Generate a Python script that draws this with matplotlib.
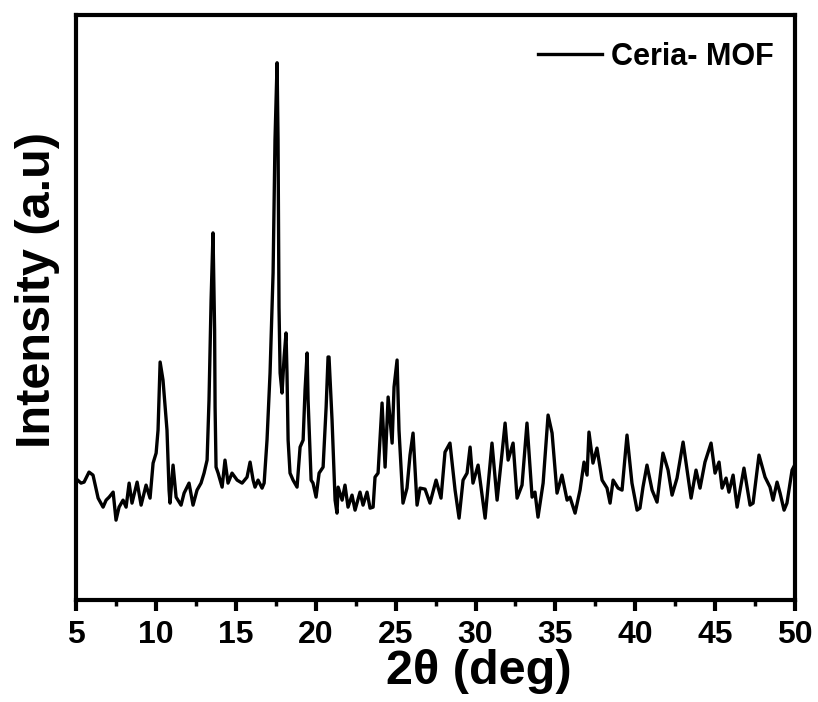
import numpy as np
import matplotlib
matplotlib.use("Agg")
import matplotlib.pyplot as plt
from matplotlib.ticker import MultipleLocator

# XRD pattern of Ceria-MOF (2theta in deg, intensity a.u.)
two_theta = [5.10, 5.31, 5.50, 5.81, 6.06, 6.38, 6.69, 6.88, 7.07, 7.32,
             7.50, 7.69, 7.94, 8.13, 8.32, 8.50, 8.82, 9.07, 9.38, 9.63,
             9.82, 10.01, 10.13, 10.26, 10.44, 10.69, 10.82, 10.88, 11.07, 11.26,
             11.57, 11.76, 12.07, 12.32, 12.57, 12.82, 13.01, 13.20, 13.32, 13.45,
             13.57, 13.64, 13.67, 13.70, 13.76, 13.89, 14.14, 14.32, 14.51, 14.76,
             15.08, 15.39, 15.70, 15.89, 16.08, 16.20, 16.39, 16.64, 16.77, 16.95,
             17.14, 17.33, 17.45, 17.58, 17.64, 17.70, 17.77, 17.89, 18.02, 18.14,
             18.20, 18.27, 18.39, 18.58, 18.83, 19.02, 19.21, 19.33, 19.46, 19.52,
             19.71, 19.83, 20.02, 20.21, 20.46, 20.65, 20.77, 20.83, 21.02, 21.21,
             21.33, 21.40, 21.65, 21.83, 22.02, 22.27, 22.46, 22.77, 22.96, 23.21,
             23.40, 23.59, 23.71, 23.90, 24.15, 24.34, 24.53, 24.78, 24.90, 25.09,
             25.21, 25.46, 25.71, 25.90, 26.09, 26.34, 26.53, 26.84, 27.15, 27.53,
             27.84, 28.09, 28.40, 28.72, 28.97, 29.22, 29.47, 29.66, 29.84, 30.16,
             30.60, 31.03, 31.35, 31.66, 31.85, 32.04, 32.35, 32.60, 32.91, 33.22,
             33.54, 33.72, 33.91, 34.23, 34.54, 34.79, 35.10, 35.41, 35.73, 35.91,
             36.23, 36.54, 36.79, 36.98, 37.10, 37.35, 37.60, 37.92, 38.23, 38.42,
             38.61, 38.92, 39.17, 39.48, 39.79, 40.11, 40.29, 40.48, 40.73, 41.05,
             41.36, 41.73, 42.05, 42.30, 42.61, 42.99, 43.24, 43.49, 43.80, 44.05,
             44.36, 44.74, 44.99, 45.24, 45.43, 45.68, 45.86, 46.12, 46.37, 46.80,
             47.18, 47.37, 47.74, 48.12, 48.43, 48.62, 48.87, 49.06, 49.31, 49.49,
             49.81, 49.94]
intensity = [120, 117, 118, 128, 125, 102, 93, 100, 103, 108,
             80, 93, 100, 93, 117, 97, 118, 95, 115, 102,
             137, 147, 170, 238, 220, 170, 110, 97, 135, 103,
             95, 107, 117, 95, 110, 117, 127, 140, 200, 300,
             367, 300, 270, 193, 133, 127, 113, 140, 117, 127,
             120, 117, 123, 138, 120, 113, 120, 112, 117, 160,
             227, 327, 460, 537, 460, 293, 227, 207, 243, 267,
             227, 160, 127, 120, 113, 153, 160, 210, 247, 200,
             120, 117, 103, 127, 133, 193, 243, 243, 180, 100,
             87, 113, 100, 115, 93, 105, 90, 108, 95, 108,
             92, 93, 123, 127, 197, 133, 203, 157, 213, 240,
             170, 97, 112, 145, 167, 95, 112, 111, 97, 120,
             102, 148, 157, 110, 82, 120, 127, 153, 117, 135,
             82, 157, 100, 147, 177, 140, 157, 102, 115, 177,
             103, 108, 83, 117, 185, 167, 107, 125, 100, 103,
             87, 110, 138, 125, 168, 137, 152, 120, 112, 97,
             120, 112, 110, 165, 117, 90, 92, 113, 135, 110,
             98, 147, 130, 105, 122, 158, 130, 102, 130, 112,
             138, 157, 127, 138, 112, 122, 108, 125, 93, 132,
             95, 97, 145, 123, 113, 100, 118, 107, 90, 97,
             130, 134]

fig = plt.figure(figsize=(8.18, 7.02), dpi=100)
ax = fig.add_axes([0.093, 0.145, 0.879, 0.834])

ax.plot(two_theta, intensity, color="black", lw=2.4, label="Ceria- MOF")

ax.set_xlim(5, 50)
ax.set_ylim(0, 585)
ax.xaxis.set_major_locator(MultipleLocator(5))
ax.xaxis.set_minor_locator(MultipleLocator(2.5))
ax.set_yticks([])
ax.tick_params(axis="x", which="major", direction="out", length=8, width=3, pad=6)
ax.tick_params(axis="x", which="minor", direction="out", length=4, width=2.5)
for s in ax.spines.values():
    s.set_linewidth(3)

sans = ["Liberation Sans", "DejaVu Sans"]
for lab in ax.get_xticklabels():
    lab.set_fontfamily(sans)
    lab.set_fontweight("bold")
    lab.set_fontsize(23)

ax.set_xlabel("2\u03b8 (deg)", fontsize=35, fontweight="bold", family=sans)
ax.xaxis.set_label_coords(0.56, -0.083)
ax.set_ylabel("Intensity (a.u)", fontsize=35, fontweight="bold", family=sans)
ax.yaxis.set_label_coords(-0.022, 0.53)

ax.legend(loc="upper right", bbox_to_anchor=(1.0, 0.99), frameon=False,
          handlelength=2.1, handletextpad=0.3,
          prop={"family": sans, "weight": "bold", "size": 22},
          borderaxespad=0.3)

fig.savefig("out.png", dpi=100)
